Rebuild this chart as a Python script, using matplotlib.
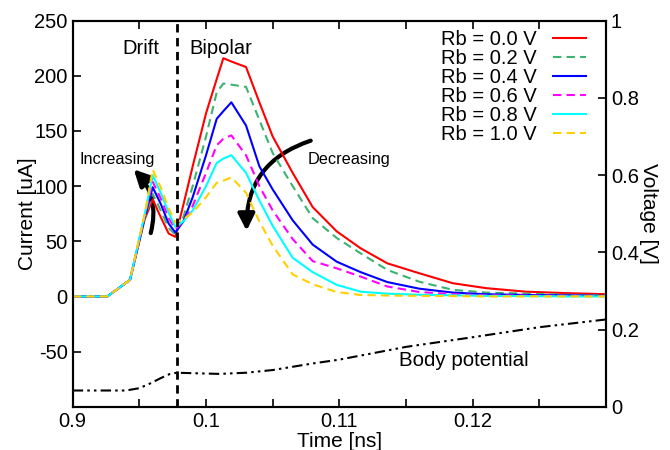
import matplotlib
matplotlib.use("Agg")
import matplotlib.pyplot as plt
from matplotlib.patches import FancyArrowPatch

plt.rcParams['font.family'] = ['Liberation Sans', 'DejaVu Sans']
plt.rcParams['axes.unicode_minus'] = False

# time grid [ns]
time = [0.0900, 0.0926, 0.0943, 0.0954, 0.0960, 0.0966, 0.0972, 0.0977, 0.0983,
        0.0990, 0.1000, 0.1008, 0.1013, 0.1019, 0.1030, 0.1040, 0.1050, 0.1065,
        0.1080, 0.1098, 0.1116, 0.1136, 0.1160, 0.1185, 0.1210, 0.1240, 0.1270, 0.1300]

# current [uA] for each body bias
rb00 = [0, 0, 15, 70, 88, 72, 57, 54, 83, 118, 166, 197, 216, 213, 208, 176, 145, 112,
        81, 59, 43.6, 30, 21, 12, 7.5, 4.3, 3, 2]
rb02 = [0, 0, 15, 71, 93, 78, 62, 56, 72, 100, 145, 185, 193, 192, 190, 160, 130, 100,
        71, 53, 39, 24, 13.3, 6, 3.5, 2.5, 1.5, 1]
rb04 = [0, 0, 15, 72, 99, 84, 66, 58, 68, 90, 128, 161, 168, 176, 155, 118, 97, 69,
        47, 31.5, 22, 13, 7, 3.5, 2, 1.3, 1, 0.5]
rb06 = [0, 0, 15, 73, 104, 89, 71, 61, 68, 82, 112, 137, 143, 146, 128, 100, 78, 52,
        32, 25.5, 18, 9, 4, 2, 1, 0.7, 0.5, 0.3]
rb08 = [0, 0, 15, 74, 110, 94, 76, 63, 68, 78, 100, 121, 125, 128, 112, 87, 64, 35,
        22, 10.5, 4.3, 2.5, 1.5, 1, 0.5, 0.3, 0, 0]
rb10 = [0, 0, 15, 75, 115, 99, 80, 67, 70, 76, 90, 103, 105, 108, 94, 68, 46, 20,
        11, 4, 1.3, 0.8, 0.5, 0.3, 0, 0, 0, 0]

labels = ['Rb = 0.0 V', 'Rb = 0.2 V', 'Rb = 0.4 V', 'Rb = 0.6 V', 'Rb = 0.8 V', 'Rb = 1.0 V']
colors = ['#ff0000', '#3cb371', '#0000ff', '#ff00ff', '#00ffff', '#ffd000']

# body potential [V] (right axis)
t_body = [0.0900, 0.0940, 0.0950, 0.0958, 0.0966, 0.0973, 0.0978, 0.1010, 0.1030,
          0.1050, 0.1080, 0.1100, 0.1150, 0.1200, 0.1250, 0.1300]
v_body = [0.042, 0.042, 0.048, 0.060, 0.074, 0.085, 0.088, 0.085, 0.088,
          0.095, 0.112, 0.122, 0.155, 0.180, 0.206, 0.226]

t_split = 0.09785  # drift / bipolar boundary

xticks = [0.090, 0.095, 0.100, 0.105, 0.110, 0.115, 0.120, 0.125, 0.130]
xticklabels = ['0.9', '', '0.1', '', '0.11', '', '0.12', '', '']

fig = plt.figure(figsize=(6.7, 4.5), dpi=100)
ax = fig.add_axes([0.1085, 0.0962, 0.796, 0.8578])
ax2 = ax.twinx()

series = [rb00, rb02, rb04, rb06, rb08, rb10]
for i, s in enumerate(series):
    if i % 2 == 0:
        ls = '-'
    else:
        ls = (0, (4, 2.5))
    ax.plot(time, s, color=colors[i], lw=1.5, ls=ls, label=labels[i])

ax.axvline(t_split, color='black', lw=2, ls=(0, (3, 2)))

ax2.plot(t_body, v_body, color='black', lw=1.5, ls=(0, (5, 2, 1.2, 2, 1.2, 2)))

ax.set_xlim(0.09, 0.13)
ax.set_ylim(-100, 250)
ax2.set_ylim(0, 1)
ax.set_xticks(xticks)
ax.set_xticklabels(xticklabels)
ax.set_yticks([-50, 0, 50, 100, 150, 200, 250])
ax2.set_yticks([0, 0.2, 0.4, 0.6, 0.8, 1.0])
ax2.set_yticklabels(['0', '0.2', '0.4', '0.6', '0.8', '1'])

ax.tick_params(direction='in', length=6, width=1.2, labelsize=14.5, top=True, right=False)
ax2.tick_params(direction='in', length=6, width=1.2, labelsize=14.5)
for a in (ax, ax2):
    for sp in a.spines.values():
        sp.set_linewidth(1.5)

ax.set_xlabel('Time [ns]', fontsize=15, labelpad=1)
ax.set_ylabel('Current [uA]', fontsize=15, labelpad=-2)
ax2.set_ylabel('Voltage [V]', fontsize=15, rotation=-90, labelpad=14)

ax.text(0.0951, 225, 'Drift', fontsize=14.5, ha='center', va='center')
ax.text(0.1011, 225, 'Bipolar', fontsize=14.5, ha='center', va='center')
ax.text(0.0933, 124, 'Increasing', fontsize=11.7, ha='center', va='center')
ax.text(0.1107, 124, 'Decreasing', fontsize=11.7, ha='center', va='center')
ax.text(0.1193, -58, 'Body potential', fontsize=14.8, ha='center', va='center')

arr1 = FancyArrowPatch((0.0958, 55), (0.09443, 117), connectionstyle='arc3,rad=0.3',
                       arrowstyle='-|>,head_length=10,head_width=5', color='black', lw=3,
                       mutation_scale=1)
arr2 = FancyArrowPatch((0.10805, 142), (0.10305, 57), connectionstyle='arc3,rad=0.38',
                       arrowstyle='-|>,head_length=10,head_width=5', color='black', lw=3,
                       mutation_scale=1)
ax.add_patch(arr1)
ax.add_patch(arr2)

leg = ax.legend(loc='upper right', bbox_to_anchor=(0.978, 0.996), frameon=False,
                fontsize=14.5, markerfirst=False, handlelength=1.65, handletextpad=0.8,
                labelspacing=0.0, borderaxespad=0)

fig.savefig('out.png', dpi=100)
